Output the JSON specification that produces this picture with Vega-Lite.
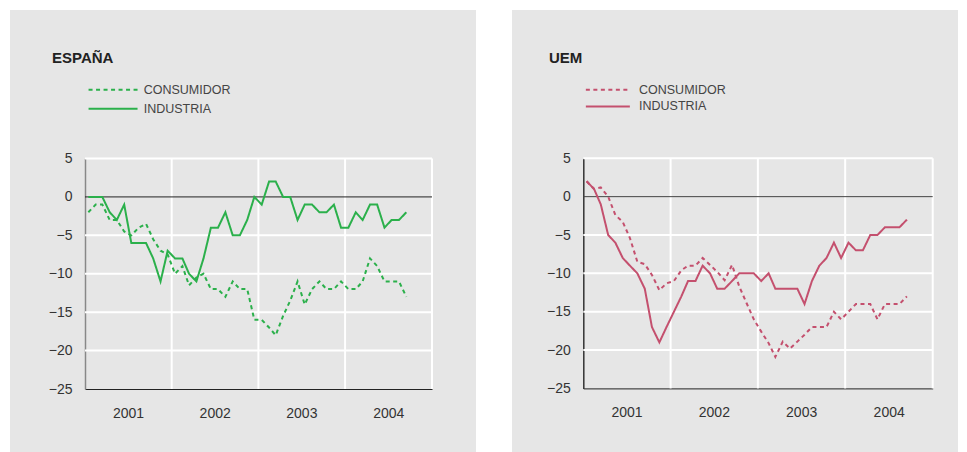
{
  "$schema": "https://vega.github.io/schema/vega-lite/v6.json",
  "background": "white",
  "padding": {"left": 10, "top": 10, "right": 0, "bottom": 0},
  "config": {
    "font": "Liberation Sans",
    "view": {"stroke": null},
    "axisX": {"grid": false, "ticks": false, "tickSize": 0, "domainColor": "#222", "domainWidth": 1, "labelPadding": 17, "labelFontSize": 14, "labelColor": "#333", "labelFlush": false, "zindex": 1},
    "axisY": {"grid": false, "ticks": false, "tickSize": 0, "domainWidth": 1.5, "labelPadding": 13, "labelFontSize": 14, "labelColor": "#333", "zindex": 1}
  },
  "datasets": {
    "vgrid": [{"fecha": "2002-01-01"}, {"fecha": "2003-01-01"}, {"fecha": "2004-01-01"}, {"fecha": "2005-01-01"}],
    "hgrid": [{"valor": 5}, {"valor": 0}, {"valor": -5}, {"valor": -10}, {"valor": -15}, {"valor": -20}],
    "es": [
      {"fecha": "2001-01-15", "serie": "CONSUMIDOR", "valor": -2},
      {"fecha": "2001-02-15", "serie": "CONSUMIDOR", "valor": -1},
      {"fecha": "2001-03-15", "serie": "CONSUMIDOR", "valor": -1},
      {"fecha": "2001-04-15", "serie": "CONSUMIDOR", "valor": -3},
      {"fecha": "2001-05-15", "serie": "CONSUMIDOR", "valor": -3},
      {"fecha": "2001-06-15", "serie": "CONSUMIDOR", "valor": -4.5},
      {"fecha": "2001-07-15", "serie": "CONSUMIDOR", "valor": -5},
      {"fecha": "2001-08-15", "serie": "CONSUMIDOR", "valor": -4},
      {"fecha": "2001-09-15", "serie": "CONSUMIDOR", "valor": -3.5},
      {"fecha": "2001-10-15", "serie": "CONSUMIDOR", "valor": -5.5},
      {"fecha": "2001-11-15", "serie": "CONSUMIDOR", "valor": -7},
      {"fecha": "2001-12-15", "serie": "CONSUMIDOR", "valor": -7.5},
      {"fecha": "2002-01-15", "serie": "CONSUMIDOR", "valor": -10},
      {"fecha": "2002-02-15", "serie": "CONSUMIDOR", "valor": -9},
      {"fecha": "2002-03-15", "serie": "CONSUMIDOR", "valor": -11.5},
      {"fecha": "2002-04-15", "serie": "CONSUMIDOR", "valor": -10.5},
      {"fecha": "2002-05-15", "serie": "CONSUMIDOR", "valor": -10},
      {"fecha": "2002-06-15", "serie": "CONSUMIDOR", "valor": -12},
      {"fecha": "2002-07-15", "serie": "CONSUMIDOR", "valor": -12},
      {"fecha": "2002-08-15", "serie": "CONSUMIDOR", "valor": -13},
      {"fecha": "2002-09-15", "serie": "CONSUMIDOR", "valor": -11},
      {"fecha": "2002-10-15", "serie": "CONSUMIDOR", "valor": -12},
      {"fecha": "2002-11-15", "serie": "CONSUMIDOR", "valor": -12},
      {"fecha": "2002-12-15", "serie": "CONSUMIDOR", "valor": -16},
      {"fecha": "2003-01-15", "serie": "CONSUMIDOR", "valor": -16},
      {"fecha": "2003-02-15", "serie": "CONSUMIDOR", "valor": -17},
      {"fecha": "2003-03-15", "serie": "CONSUMIDOR", "valor": -18},
      {"fecha": "2003-04-15", "serie": "CONSUMIDOR", "valor": -15.5},
      {"fecha": "2003-05-15", "serie": "CONSUMIDOR", "valor": -13.5},
      {"fecha": "2003-06-15", "serie": "CONSUMIDOR", "valor": -11},
      {"fecha": "2003-07-15", "serie": "CONSUMIDOR", "valor": -14},
      {"fecha": "2003-08-15", "serie": "CONSUMIDOR", "valor": -12},
      {"fecha": "2003-09-15", "serie": "CONSUMIDOR", "valor": -11},
      {"fecha": "2003-10-15", "serie": "CONSUMIDOR", "valor": -12},
      {"fecha": "2003-11-15", "serie": "CONSUMIDOR", "valor": -12},
      {"fecha": "2003-12-15", "serie": "CONSUMIDOR", "valor": -11},
      {"fecha": "2004-01-15", "serie": "CONSUMIDOR", "valor": -12},
      {"fecha": "2004-02-15", "serie": "CONSUMIDOR", "valor": -12},
      {"fecha": "2004-03-15", "serie": "CONSUMIDOR", "valor": -11},
      {"fecha": "2004-04-15", "serie": "CONSUMIDOR", "valor": -8},
      {"fecha": "2004-05-15", "serie": "CONSUMIDOR", "valor": -9},
      {"fecha": "2004-06-15", "serie": "CONSUMIDOR", "valor": -11},
      {"fecha": "2004-07-15", "serie": "CONSUMIDOR", "valor": -11},
      {"fecha": "2004-08-15", "serie": "CONSUMIDOR", "valor": -11},
      {"fecha": "2004-09-15", "serie": "CONSUMIDOR", "valor": -13},
      {"fecha": "2001-01-15", "serie": "INDUSTRIA", "valor": 0},
      {"fecha": "2001-02-15", "serie": "INDUSTRIA", "valor": 0},
      {"fecha": "2001-03-15", "serie": "INDUSTRIA", "valor": 0},
      {"fecha": "2001-04-15", "serie": "INDUSTRIA", "valor": -2},
      {"fecha": "2001-05-15", "serie": "INDUSTRIA", "valor": -3},
      {"fecha": "2001-06-15", "serie": "INDUSTRIA", "valor": -1},
      {"fecha": "2001-07-15", "serie": "INDUSTRIA", "valor": -6},
      {"fecha": "2001-08-15", "serie": "INDUSTRIA", "valor": -6},
      {"fecha": "2001-09-15", "serie": "INDUSTRIA", "valor": -6},
      {"fecha": "2001-10-15", "serie": "INDUSTRIA", "valor": -8},
      {"fecha": "2001-11-15", "serie": "INDUSTRIA", "valor": -11},
      {"fecha": "2001-12-15", "serie": "INDUSTRIA", "valor": -7},
      {"fecha": "2002-01-15", "serie": "INDUSTRIA", "valor": -8},
      {"fecha": "2002-02-15", "serie": "INDUSTRIA", "valor": -8},
      {"fecha": "2002-03-15", "serie": "INDUSTRIA", "valor": -10},
      {"fecha": "2002-04-15", "serie": "INDUSTRIA", "valor": -11},
      {"fecha": "2002-05-15", "serie": "INDUSTRIA", "valor": -8},
      {"fecha": "2002-06-15", "serie": "INDUSTRIA", "valor": -4},
      {"fecha": "2002-07-15", "serie": "INDUSTRIA", "valor": -4},
      {"fecha": "2002-08-15", "serie": "INDUSTRIA", "valor": -2},
      {"fecha": "2002-09-15", "serie": "INDUSTRIA", "valor": -5},
      {"fecha": "2002-10-15", "serie": "INDUSTRIA", "valor": -5},
      {"fecha": "2002-11-15", "serie": "INDUSTRIA", "valor": -3},
      {"fecha": "2002-12-15", "serie": "INDUSTRIA", "valor": 0},
      {"fecha": "2003-01-15", "serie": "INDUSTRIA", "valor": -1},
      {"fecha": "2003-02-15", "serie": "INDUSTRIA", "valor": 2},
      {"fecha": "2003-03-15", "serie": "INDUSTRIA", "valor": 2},
      {"fecha": "2003-04-15", "serie": "INDUSTRIA", "valor": 0},
      {"fecha": "2003-05-15", "serie": "INDUSTRIA", "valor": 0},
      {"fecha": "2003-06-15", "serie": "INDUSTRIA", "valor": -3},
      {"fecha": "2003-07-15", "serie": "INDUSTRIA", "valor": -1},
      {"fecha": "2003-08-15", "serie": "INDUSTRIA", "valor": -1},
      {"fecha": "2003-09-15", "serie": "INDUSTRIA", "valor": -2},
      {"fecha": "2003-10-15", "serie": "INDUSTRIA", "valor": -2},
      {"fecha": "2003-11-15", "serie": "INDUSTRIA", "valor": -1},
      {"fecha": "2003-12-15", "serie": "INDUSTRIA", "valor": -4},
      {"fecha": "2004-01-15", "serie": "INDUSTRIA", "valor": -4},
      {"fecha": "2004-02-15", "serie": "INDUSTRIA", "valor": -2},
      {"fecha": "2004-03-15", "serie": "INDUSTRIA", "valor": -3},
      {"fecha": "2004-04-15", "serie": "INDUSTRIA", "valor": -1},
      {"fecha": "2004-05-15", "serie": "INDUSTRIA", "valor": -1},
      {"fecha": "2004-06-15", "serie": "INDUSTRIA", "valor": -4},
      {"fecha": "2004-07-15", "serie": "INDUSTRIA", "valor": -3},
      {"fecha": "2004-08-15", "serie": "INDUSTRIA", "valor": -3},
      {"fecha": "2004-09-15", "serie": "INDUSTRIA", "valor": -2}
    ],
    "uem": [
      {"fecha": "2001-01-15", "serie": "CONSUMIDOR", "valor": 2},
      {"fecha": "2001-02-15", "serie": "CONSUMIDOR", "valor": 1},
      {"fecha": "2001-03-15", "serie": "CONSUMIDOR", "valor": 1.2},
      {"fecha": "2001-04-15", "serie": "CONSUMIDOR", "valor": 0},
      {"fecha": "2001-05-15", "serie": "CONSUMIDOR", "valor": -2.4},
      {"fecha": "2001-06-15", "serie": "CONSUMIDOR", "valor": -3.3},
      {"fecha": "2001-07-15", "serie": "CONSUMIDOR", "valor": -5.4},
      {"fecha": "2001-08-15", "serie": "CONSUMIDOR", "valor": -8.5},
      {"fecha": "2001-09-15", "serie": "CONSUMIDOR", "valor": -8.8},
      {"fecha": "2001-10-15", "serie": "CONSUMIDOR", "valor": -10.2},
      {"fecha": "2001-11-15", "serie": "CONSUMIDOR", "valor": -12.2},
      {"fecha": "2001-12-15", "serie": "CONSUMIDOR", "valor": -11.3},
      {"fecha": "2002-01-15", "serie": "CONSUMIDOR", "valor": -11},
      {"fecha": "2002-02-15", "serie": "CONSUMIDOR", "valor": -9.6},
      {"fecha": "2002-03-15", "serie": "CONSUMIDOR", "valor": -9},
      {"fecha": "2002-04-15", "serie": "CONSUMIDOR", "valor": -9},
      {"fecha": "2002-05-15", "serie": "CONSUMIDOR", "valor": -8},
      {"fecha": "2002-06-15", "serie": "CONSUMIDOR", "valor": -8.9},
      {"fecha": "2002-07-15", "serie": "CONSUMIDOR", "valor": -9.8},
      {"fecha": "2002-08-15", "serie": "CONSUMIDOR", "valor": -10.9},
      {"fecha": "2002-09-15", "serie": "CONSUMIDOR", "valor": -8.9},
      {"fecha": "2002-10-15", "serie": "CONSUMIDOR", "valor": -11.7},
      {"fecha": "2002-11-15", "serie": "CONSUMIDOR", "valor": -13.9},
      {"fecha": "2002-12-15", "serie": "CONSUMIDOR", "valor": -16},
      {"fecha": "2003-01-15", "serie": "CONSUMIDOR", "valor": -17.6},
      {"fecha": "2003-02-15", "serie": "CONSUMIDOR", "valor": -19.1},
      {"fecha": "2003-03-15", "serie": "CONSUMIDOR", "valor": -20.9},
      {"fecha": "2003-04-15", "serie": "CONSUMIDOR", "valor": -18.9},
      {"fecha": "2003-05-15", "serie": "CONSUMIDOR", "valor": -19.8},
      {"fecha": "2003-06-15", "serie": "CONSUMIDOR", "valor": -18.9},
      {"fecha": "2003-07-15", "serie": "CONSUMIDOR", "valor": -18},
      {"fecha": "2003-08-15", "serie": "CONSUMIDOR", "valor": -17},
      {"fecha": "2003-09-15", "serie": "CONSUMIDOR", "valor": -17},
      {"fecha": "2003-10-15", "serie": "CONSUMIDOR", "valor": -17},
      {"fecha": "2003-11-15", "serie": "CONSUMIDOR", "valor": -15},
      {"fecha": "2003-12-15", "serie": "CONSUMIDOR", "valor": -16},
      {"fecha": "2004-01-15", "serie": "CONSUMIDOR", "valor": -15},
      {"fecha": "2004-02-15", "serie": "CONSUMIDOR", "valor": -14},
      {"fecha": "2004-03-15", "serie": "CONSUMIDOR", "valor": -14},
      {"fecha": "2004-04-15", "serie": "CONSUMIDOR", "valor": -14},
      {"fecha": "2004-05-15", "serie": "CONSUMIDOR", "valor": -16},
      {"fecha": "2004-06-15", "serie": "CONSUMIDOR", "valor": -14},
      {"fecha": "2004-07-15", "serie": "CONSUMIDOR", "valor": -14},
      {"fecha": "2004-08-15", "serie": "CONSUMIDOR", "valor": -14},
      {"fecha": "2004-09-15", "serie": "CONSUMIDOR", "valor": -13},
      {"fecha": "2001-01-15", "serie": "INDUSTRIA", "valor": 2},
      {"fecha": "2001-02-15", "serie": "INDUSTRIA", "valor": 1},
      {"fecha": "2001-03-15", "serie": "INDUSTRIA", "valor": -1},
      {"fecha": "2001-04-15", "serie": "INDUSTRIA", "valor": -5},
      {"fecha": "2001-05-15", "serie": "INDUSTRIA", "valor": -6},
      {"fecha": "2001-06-15", "serie": "INDUSTRIA", "valor": -8},
      {"fecha": "2001-07-15", "serie": "INDUSTRIA", "valor": -9},
      {"fecha": "2001-08-15", "serie": "INDUSTRIA", "valor": -10},
      {"fecha": "2001-09-15", "serie": "INDUSTRIA", "valor": -12},
      {"fecha": "2001-10-15", "serie": "INDUSTRIA", "valor": -17},
      {"fecha": "2001-11-15", "serie": "INDUSTRIA", "valor": -19},
      {"fecha": "2001-12-15", "serie": "INDUSTRIA", "valor": -17},
      {"fecha": "2002-01-15", "serie": "INDUSTRIA", "valor": -15},
      {"fecha": "2002-02-15", "serie": "INDUSTRIA", "valor": -13},
      {"fecha": "2002-03-15", "serie": "INDUSTRIA", "valor": -11},
      {"fecha": "2002-04-15", "serie": "INDUSTRIA", "valor": -11},
      {"fecha": "2002-05-15", "serie": "INDUSTRIA", "valor": -9},
      {"fecha": "2002-06-15", "serie": "INDUSTRIA", "valor": -10},
      {"fecha": "2002-07-15", "serie": "INDUSTRIA", "valor": -12},
      {"fecha": "2002-08-15", "serie": "INDUSTRIA", "valor": -12},
      {"fecha": "2002-09-15", "serie": "INDUSTRIA", "valor": -11},
      {"fecha": "2002-10-15", "serie": "INDUSTRIA", "valor": -10},
      {"fecha": "2002-11-15", "serie": "INDUSTRIA", "valor": -10},
      {"fecha": "2002-12-15", "serie": "INDUSTRIA", "valor": -10},
      {"fecha": "2003-01-15", "serie": "INDUSTRIA", "valor": -11},
      {"fecha": "2003-02-15", "serie": "INDUSTRIA", "valor": -10},
      {"fecha": "2003-03-15", "serie": "INDUSTRIA", "valor": -12},
      {"fecha": "2003-04-15", "serie": "INDUSTRIA", "valor": -12},
      {"fecha": "2003-05-15", "serie": "INDUSTRIA", "valor": -12},
      {"fecha": "2003-06-15", "serie": "INDUSTRIA", "valor": -12},
      {"fecha": "2003-07-15", "serie": "INDUSTRIA", "valor": -14},
      {"fecha": "2003-08-15", "serie": "INDUSTRIA", "valor": -11},
      {"fecha": "2003-09-15", "serie": "INDUSTRIA", "valor": -9},
      {"fecha": "2003-10-15", "serie": "INDUSTRIA", "valor": -8},
      {"fecha": "2003-11-15", "serie": "INDUSTRIA", "valor": -6},
      {"fecha": "2003-12-15", "serie": "INDUSTRIA", "valor": -8},
      {"fecha": "2004-01-15", "serie": "INDUSTRIA", "valor": -6},
      {"fecha": "2004-02-15", "serie": "INDUSTRIA", "valor": -7},
      {"fecha": "2004-03-15", "serie": "INDUSTRIA", "valor": -7},
      {"fecha": "2004-04-15", "serie": "INDUSTRIA", "valor": -5},
      {"fecha": "2004-05-15", "serie": "INDUSTRIA", "valor": -5},
      {"fecha": "2004-06-15", "serie": "INDUSTRIA", "valor": -4},
      {"fecha": "2004-07-15", "serie": "INDUSTRIA", "valor": -4},
      {"fecha": "2004-08-15", "serie": "INDUSTRIA", "valor": -4},
      {"fecha": "2004-09-15", "serie": "INDUSTRIA", "valor": -3}
    ]
  },
  "resolve": {
    "scale": {"x": "independent", "y": "independent", "color": "independent", "strokeDash": "independent"},
    "legend": {"color": "independent", "strokeDash": "independent"}
  },
  "spacing": 36,
  "hconcat": [
    {
      "width": 466,
      "height": 442,
      "view": {"fill": "#e6e6e6", "stroke": null},
      "title": {"text": "ESPAÑA", "anchor": "start", "frame": "group", "offset": -68, "dx": 42, "baseline": "alphabetic", "fontSize": 15, "fontWeight": "bold", "color": "#222"},
      "layer": [
        {
          "data": {"name": "vgrid"},
          "mark": {"type": "rule", "color": "white", "strokeWidth": 2},
          "encoding": {
            "x": {"field": "fecha", "type": "temporal",
                  "axis": {"title": null, "values": [{"year": 2001, "month": 7, "date": 1, "utc": true}, {"year": 2002, "month": 7, "date": 1, "utc": true}, {"year": 2003, "month": 7, "date": 1, "utc": true}, {"year": 2004, "month": 7, "date": 1, "utc": true}], "format": "%Y", "offset": -63},
                  "scale": {"domain": [{"year": 2001, "month": 1, "date": 1, "utc": true}, {"year": 2005, "month": 1, "date": 1, "utc": true}], "range": [75, 422], "nice": false}},
            "y": {"datum": -25, "type": "quantitative",
                  "axis": {"title": null, "values": [-25, -20, -15, -10, -5, 0, 5], "offset": -75, "domainColor": "#888"},
                  "scale": {"domain": [-25, 5], "range": [379, 148.5], "nice": false, "zero": false}},
            "y2": {"datum": 5}
          }
        },
        {
          "data": {"name": "hgrid"},
          "transform": [{"filter": "datum.valor != 0"}],
          "mark": {"type": "rule", "color": "white", "strokeWidth": 2},
          "encoding": {
            "y": {"field": "valor", "type": "quantitative", "axis": {"title": null}},
            "x": {"datum": {"year": 2001, "month": 1, "date": 1, "utc": true}, "type": "temporal", "axis": {"title": null}},
            "x2": {"datum": {"year": 2005, "month": 1, "date": 1, "utc": true}}
          }
        },
        {
          "data": {"name": "hgrid"},
          "transform": [{"filter": "datum.valor == 0"}],
          "mark": {"type": "rule", "color": "#222", "strokeWidth": 1},
          "encoding": {
            "y": {"field": "valor", "type": "quantitative", "axis": {"title": null}},
            "x": {"datum": {"year": 2001, "month": 1, "date": 1, "utc": true}, "type": "temporal", "axis": {"title": null}},
            "x2": {"datum": {"year": 2005, "month": 1, "date": 1, "utc": true}}
          }
        },
        {
          "data": {"name": "es"},
          "mark": {"type": "line", "strokeWidth": 2},
          "encoding": {
            "x": {"field": "fecha", "type": "temporal", "axis": {"title": null}},
            "y": {"field": "valor", "type": "quantitative", "axis": {"title": null}},
            "color": {"field": "serie", "type": "nominal", "scale": {"range": ["#2bb04b", "#2bb04b"]},
                      "legend": {"orient": "none", "legendX": 96.8, "legendY": 73.5, "title": null, "symbolType": "M-5,0H5", "symbolSize": 96, "symbolStrokeWidth": 2, "labelOffset": 24.4, "rowPadding": 6, "labelFontSize": 12.5, "labelColor": "#444", "padding": 0}},
            "strokeDash": {"field": "serie", "type": "nominal", "scale": {"range": [[4, 3.5], [1, 0]]},
                      "legend": {"orient": "none", "legendX": 96.8, "legendY": 73.5, "title": null, "symbolType": "M-5,0H5", "symbolSize": 96, "symbolStrokeWidth": 2, "labelOffset": 24.4, "rowPadding": 6, "labelFontSize": 12.5, "labelColor": "#444", "padding": 0}}
          }
        }
      ]
    },
    {
      "width": 446,
      "height": 442,
      "view": {"fill": "#e6e6e6", "stroke": null},
      "title": {"text": "UEM", "anchor": "start", "frame": "group", "offset": -67.5, "dx": 37, "baseline": "alphabetic", "fontSize": 15, "fontWeight": "bold", "color": "#222"},
      "layer": [
        {
          "data": {"name": "vgrid"},
          "mark": {"type": "rule", "color": "white", "strokeWidth": 2},
          "encoding": {
            "x": {"field": "fecha", "type": "temporal",
                  "axis": {"title": null, "values": [{"year": 2001, "month": 7, "date": 1, "utc": true}, {"year": 2002, "month": 7, "date": 1, "utc": true}, {"year": 2003, "month": 7, "date": 1, "utc": true}, {"year": 2004, "month": 7, "date": 1, "utc": true}], "format": "%Y", "offset": -63.6},
                  "scale": {"domain": [{"year": 2001, "month": 1, "date": 1, "utc": true}, {"year": 2005, "month": 1, "date": 1, "utc": true}], "range": [71.3, 420.7], "nice": false}},
            "y": {"datum": -25, "type": "quantitative",
                  "axis": {"title": null, "values": [-25, -20, -15, -10, -5, 0, 5], "offset": -71.3, "domainColor": "#333"},
                  "scale": {"domain": [-25, 5], "range": [378.4, 148.3], "nice": false, "zero": false}},
            "y2": {"datum": 5}
          }
        },
        {
          "data": {"name": "hgrid"},
          "transform": [{"filter": "datum.valor != 0"}],
          "mark": {"type": "rule", "color": "white", "strokeWidth": 2},
          "encoding": {
            "y": {"field": "valor", "type": "quantitative", "axis": {"title": null}},
            "x": {"datum": {"year": 2001, "month": 1, "date": 1, "utc": true}, "type": "temporal", "axis": {"title": null}},
            "x2": {"datum": {"year": 2005, "month": 1, "date": 1, "utc": true}}
          }
        },
        {
          "data": {"name": "hgrid"},
          "transform": [{"filter": "datum.valor == 0"}],
          "mark": {"type": "rule", "color": "#444", "strokeWidth": 1},
          "encoding": {
            "y": {"field": "valor", "type": "quantitative", "axis": {"title": null}},
            "x": {"datum": {"year": 2001, "month": 1, "date": 1, "utc": true}, "type": "temporal", "axis": {"title": null}},
            "x2": {"datum": {"year": 2005, "month": 1, "date": 1, "utc": true}}
          }
        },
        {
          "data": {"name": "uem"},
          "mark": {"type": "line", "strokeWidth": 2},
          "encoding": {
            "x": {"field": "fecha", "type": "temporal", "axis": {"title": null}},
            "y": {"field": "valor", "type": "quantitative", "axis": {"title": null}},
            "color": {"field": "serie", "type": "nominal", "scale": {"range": ["#c4506e", "#c4506e"]},
                      "legend": {"orient": "none", "legendX": 89.6, "legendY": 73.5, "title": null, "symbolType": "M-5,0H5", "symbolSize": 77.4, "symbolStrokeWidth": 2, "labelOffset": 24.9, "rowPadding": 3.7, "labelFontSize": 12.5, "labelColor": "#444", "padding": 0}},
            "strokeDash": {"field": "serie", "type": "nominal", "scale": {"range": [[4, 3.5], [1, 0]]},
                      "legend": {"orient": "none", "legendX": 89.6, "legendY": 73.5, "title": null, "symbolType": "M-5,0H5", "symbolSize": 77.4, "symbolStrokeWidth": 2, "labelOffset": 24.9, "rowPadding": 3.7, "labelFontSize": 12.5, "labelColor": "#444", "padding": 0}}
          }
        }
      ]
    }
  ]
}
